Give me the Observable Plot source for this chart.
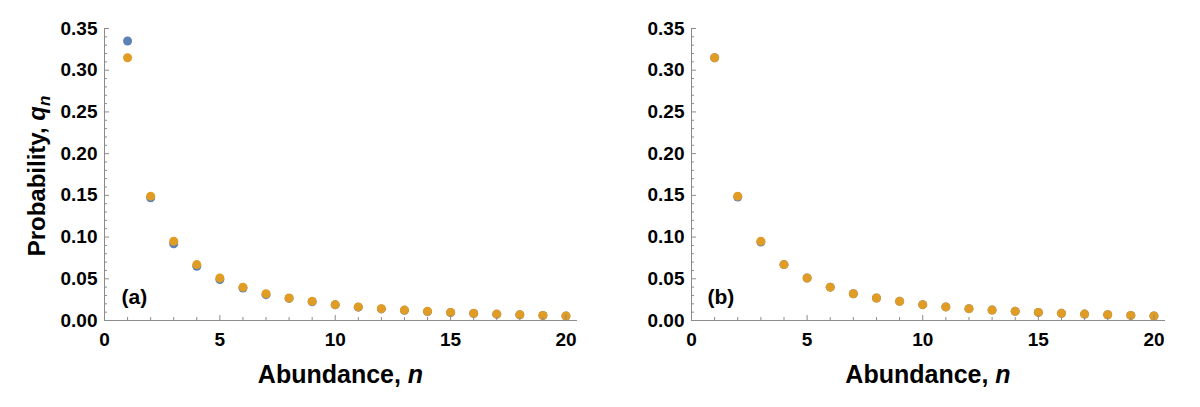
<!DOCTYPE html>
<html>
<head>
<meta charset="utf-8">
<script src="https://cdn.jsdelivr.net/npm/d3@7"></script>
<script src="https://cdn.jsdelivr.net/npm/@observablehq/plot@0.6"></script>
<style>
  html, body { margin: 0; padding: 0; background: #fff; }
  #fig { display: flex; width: 1200px; height: 407px; }
</style>
</head>
<body>
<div id="fig"></div>
<script>
// Abundance classes n = 1..20
const abundance = [1, 2, 3, 4, 5, 6, 7, 8, 9, 10, 11, 12, 13, 14, 15, 16, 17, 18, 19, 20];

// Panel (a): simulated probabilities (blue) and predicted probabilities (orange)
const simulatedA = [0.335, 0.147, 0.092, 0.065, 0.049, 0.039, 0.031, 0.0265, 0.0225, 0.0188,
                    0.0160, 0.0139, 0.0122, 0.0107, 0.0095, 0.0085, 0.0076, 0.0068, 0.0060, 0.0053];
const predictedA = [0.315, 0.149, 0.095, 0.067, 0.051, 0.040, 0.032, 0.027, 0.023, 0.019,
                    0.0163, 0.0142, 0.0125, 0.0110, 0.0097, 0.0086, 0.0077, 0.0069, 0.0061, 0.0054];

// Panel (b): same quantities under the second scenario
const simulatedB = [0.315, 0.148, 0.094, 0.067, 0.051, 0.040, 0.032, 0.027, 0.023, 0.019,
                    0.0163, 0.0142, 0.0125, 0.0110, 0.0097, 0.0086, 0.0077, 0.0069, 0.0061, 0.0054];
const predictedB = [0.315, 0.149, 0.095, 0.067, 0.051, 0.040, 0.032, 0.027, 0.023, 0.019,
                    0.0163, 0.0142, 0.0125, 0.0110, 0.0097, 0.0086, 0.0077, 0.0069, 0.0061, 0.0054];

// Axis ticks
const xMajorTicks = [0, 5, 10, 15, 20];
const xMinorTicks = [1, 2, 3, 4, 6, 7, 8, 9, 11, 12, 13, 14, 16, 17, 18, 19];
const yMajorTicks = [0, 0.05, 0.10, 0.15, 0.20, 0.25, 0.30, 0.35];
const yMinorTicks = [0.01, 0.02, 0.03, 0.04, 0.06, 0.07, 0.08, 0.09, 0.11, 0.12, 0.13, 0.14,
                     0.16, 0.17, 0.18, 0.19, 0.21, 0.22, 0.23, 0.24, 0.26, 0.27, 0.28, 0.29,
                     0.31, 0.32, 0.33, 0.34];

const blue = "#5E81B5";
const orange = "#E19C24";
const axisGray = "#8c8c8c";
const fontFamily = "'Liberation Sans', Arial, Helvetica, sans-serif";

function panel({simulated, predicted, tag, marginLeft, marginRight, tagDx, yLabel}) {
  const rows = abundance.map((n, i) => ({n, simulated: simulated[i], predicted: predicted[i]}));
  const width = 600, height = 407, marginTop = 28, marginBottom = 87;

  const svg = Plot.plot({
    width, height, marginTop, marginBottom, marginLeft, marginRight,
    x: {domain: [0, 20.5]},
    y: {domain: [0, 0.35]},
    style: {fontFamily, fontSize: "19px", fontWeight: "bold", color: "black", background: "white", overflow: "visible"},
    marks: [
      Plot.dot(rows, {x: "n", y: "simulated", r: 4.5, fill: blue}),
      Plot.dot(rows, {x: "n", y: "predicted", r: 4.5, fill: orange}),
      Plot.ruleX([0], {stroke: axisGray}),
      Plot.ruleY([0], {stroke: axisGray}),
      // inward-pointing ticks
      Plot.axisY(yMinorTicks, {tickSize: -3, stroke: axisGray, fill: "none", label: null}),
      Plot.axisY(yMajorTicks, {tickSize: -5, tickPadding: 12, stroke: axisGray, fill: "black",
                               fontSize: 19, fontWeight: "bold",
                               tickFormat: d3.format(".2f"), label: null}),
      Plot.axisX(xMinorTicks, {tickSize: -3, stroke: axisGray, fill: "none", label: null}),
      Plot.axisX(xMajorTicks, {tickSize: -5, tickPadding: 17, stroke: axisGray, fill: "black",
                               fontSize: 19, fontWeight: "bold",
                               tickFormat: d3.format("d"), label: null}),
      Plot.text([tag], {frameAnchor: "bottom-left", dx: tagDx, dy: -23, textAnchor: "start",
                        lineAnchor: "middle", fontSize: 21, fontWeight: "bold", fill: "black"})
    ]
  });

  const root = d3.select(svg);
  const cx = marginLeft + (width - marginLeft - marginRight) / 2;

  // x-axis title with italic n
  const xt = root.append("text")
    .attr("x", cx).attr("y", 383)
    .attr("text-anchor", "middle")
    .attr("font-size", 25).attr("font-weight", "bold").attr("fill", "black");
  xt.append("tspan").text("Abundance, ");
  xt.append("tspan").attr("font-style", "italic").text("n");

  if (yLabel) {
    const cy = marginTop + (height - marginTop - marginBottom) / 2;
    const yt = root.append("text")
      .attr("transform", `translate(45,${cy + 2}) rotate(-90)`)
      .attr("text-anchor", "middle")
      .attr("font-size", 24).attr("font-weight", "bold").attr("fill", "black");
    yt.append("tspan").text("Probability, ");
    yt.append("tspan").attr("font-style", "italic").text("q");
    yt.append("tspan").attr("font-style", "italic").attr("font-size", 17).attr("dy", 5).text("n");
  }
  return svg;
}

const fig = document.getElementById("fig");
fig.append(panel({simulated: simulatedA, predicted: predictedA, tag: "(a)",
                  marginLeft: 104, marginRight: 23, tagDx: 17, yLabel: true}));
fig.append(panel({simulated: simulatedB, predicted: predictedB, tag: "(b)",
                  marginLeft: 91, marginRight: 35, tagDx: 16, yLabel: false}));
</script>
</body>
</html>
